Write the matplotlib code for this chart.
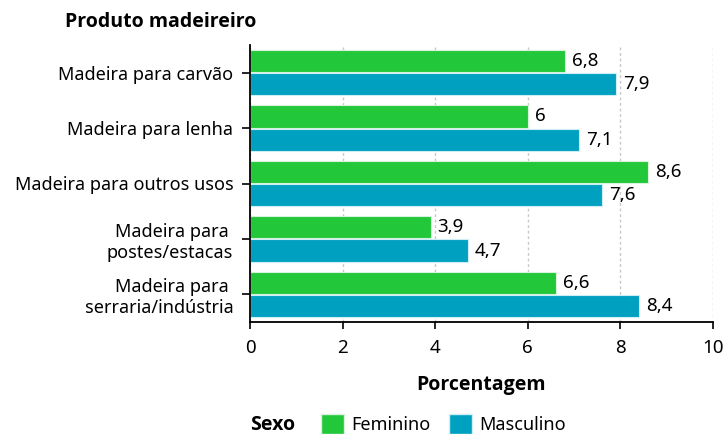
import numpy as np
import matplotlib
matplotlib.use('Agg')
import matplotlib.pyplot as plt
from matplotlib.patches import Patch

plt.rcParams['font.family'] = ['Noto Sans', 'DejaVu Sans']
negrito = ['Open Sans', 'DejaVu Sans']

categorias = ['Madeira para carvão', 'Madeira para lenha', 'Madeira para outros usos',
              'Madeira para \npostes/estacas', 'Madeira para \nserraria/indústria']
feminino = [6.8, 6.0, 8.6, 3.9, 6.6]
masculino = [7.9, 7.1, 7.6, 4.7, 8.4]

cor_fem = '#22c83a'
cor_mas = '#00a0c0'


def rotulo(v):
    s = ('%.1f' % v).rstrip('0').rstrip('.')
    return s.replace('.', ',')


fig = plt.figure(figsize=(7.25, 4.34), dpi=100)
ax = fig.add_axes([250 / 725, 1 - 322 / 434, 463 / 725, 277 / 434])

y = np.arange(len(categorias))
h = 0.4
ax.barh(y - h / 2 - 0.01, feminino, height=h, color=cor_fem, edgecolor='#d8f2dc', linewidth=0.8, zorder=2)
ax.barh(y + h / 2 + 0.01, masculino, height=h, color=cor_mas, edgecolor='#cdeef5', linewidth=0.8, zorder=2)

for i in range(len(categorias)):
    ax.text(feminino[i] + 0.15, y[i] - h / 2 - 0.01, rotulo(feminino[i]), va='center', ha='left', fontsize=13.5)
    ax.text(masculino[i] + 0.15, y[i] + h / 2 + 0.01, rotulo(masculino[i]), va='center', ha='left', fontsize=13.5)

ax.set_xlim(0, 10)
ax.set_ylim(len(categorias) - 0.5, -0.5)
ax.set_xticks([0, 2, 4, 6, 8, 10])
ax.set_yticks(y)
ax.set_yticklabels(categorias, fontsize=13)
ax.tick_params(axis='x', labelsize=13.5, length=5, width=1.2, pad=7)
ax.tick_params(axis='y', length=6, width=1.2, pad=6)
ax.grid(axis='x', linestyle=(0, (2, 2)), color='#c8c8c8', linewidth=1, zorder=0)
for s in ['top', 'right']:
    ax.spines[s].set_visible(False)
ax.spines['left'].set_linewidth(1.3)
ax.spines['bottom'].set_linewidth(1.3)

ax.set_xlabel('Porcentagem', fontsize=14, fontweight='bold', family=negrito, labelpad=13)
fig.text(65 / 725, 1 - 22 / 434, 'Produto madeireiro', fontsize=14, fontweight='bold', family=negrito,
         va='center', ha='left')

fig.text(250 / 725, 1 - 425 / 434, 'Sexo', fontsize=14, fontweight='bold', family=negrito, va='center', ha='left')
handles = [Patch(facecolor=cor_fem, edgecolor='#d8f2dc', label='Feminino'),
           Patch(facecolor=cor_mas, edgecolor='#cdeef5', label='Masculino')]
fig.legend(handles=handles, loc='center left', bbox_to_anchor=(321 / 725, 1 - 424 / 434), ncol=2,
           frameon=False, fontsize=13, handlelength=1.3, handleheight=1.3, handletextpad=0.4,
           columnspacing=1.0, borderaxespad=0, borderpad=0)

fig.savefig('out.png', dpi=100)
